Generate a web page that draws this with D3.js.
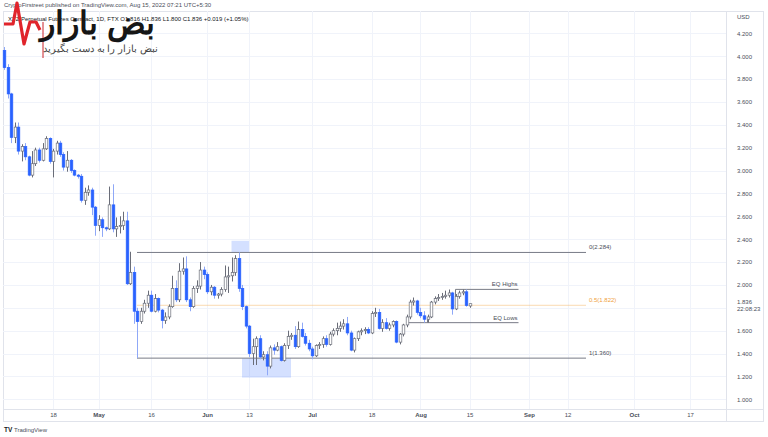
<!DOCTYPE html>
<html><head><meta charset="utf-8">
<script src="https://cdn.jsdelivr.net/npm/d3@7"></script>
<style>body{margin:0;background:#fff}svg{display:block}text{font-family:"Liberation Sans",Arial,sans-serif}</style>
</head><body><svg id="c" width="768" height="437"></svg>
<script>
// ---- data ----
const startDate = "2022-04-04", endDate = "2022-08-15";
const open = [4.05,3.90,3.67,3.29,3.38,3.17,3.21,3.12,2.96,3.06,3.18,3.09,3.19,3.28,3.08,3.17,3.24,3.14,3.03,3.09,3.00,2.96,2.95,2.74,2.81,2.83,2.68,
2.52,2.57,2.50,2.49,2.70,2.49,2.51,2.52,2.56,2.01,2.11,1.77,1.68,1.77,1.84,1.91,1.77,1.88,1.78,1.69,1.72,1.81,1.97,1.87,2.12,2.14,1.87,1.81,1.97,1.99,2.13,
2.09,1.94,1.98,1.91,1.92,1.96,2.07,2.08,2.11,2.23,1.97,1.81,1.64,1.40,1.46,1.53,1.37,1.39,1.29,1.45,1.43,1.46,1.34,1.47,1.55,1.56,1.46,1.61,1.55,1.49,
1.44,1.38,1.47,1.48,1.53,1.48,1.57,1.60,1.62,1.64,1.66,1.58,1.43,1.53,1.59,1.60,1.61,1.58,1.75,1.76,1.62,1.67,1.62,1.65,1.68,1.50,1.57,1.65,1.72,1.85,1.86,
1.76,1.73,1.70,1.72,1.85,1.88,1.89,1.90,1.91,1.93,1.79,1.90,1.93,1.94,1.816];
const high = [4.08,3.93,3.68,3.42,3.42,3.23,3.24,3.13,3.17,3.20,3.20,3.24,3.30,3.29,3.19,3.26,3.26,3.16,3.17,3.10,3.01,2.97,2.97,2.85,2.87,2.85,2.69,
2.61,2.59,2.51,2.86,2.88,2.59,2.60,2.64,2.64,2.29,2.16,1.80,1.80,1.87,1.95,1.95,1.92,1.89,1.79,1.76,1.83,2.08,2.04,2.19,2.24,2.25,1.89,1.99,2.04,2.20,2.16,
2.11,2.00,1.99,1.93,1.98,2.17,2.16,2.24,2.26,2.284,2.00,1.82,1.65,1.53,1.55,1.56,1.42,1.42,1.47,1.48,1.50,1.47,1.49,1.60,1.58,1.64,1.68,1.67,1.58,1.52,
1.46,1.48,1.50,1.55,1.56,1.59,1.62,1.67,1.68,1.70,1.72,1.60,1.54,1.60,1.62,1.63,1.63,1.77,1.80,1.79,1.70,1.71,1.67,1.69,1.69,1.58,1.66,1.74,1.87,1.89,1.87,
1.80,1.77,1.74,1.86,1.90,1.92,1.93,1.95,1.96,1.94,1.92,1.95,1.96,1.96,1.836];
const low = [3.88,3.63,3.24,3.24,3.14,3.08,3.09,2.95,2.94,3.04,3.07,3.08,3.18,3.06,2.94,3.14,3.12,3.00,2.99,2.98,2.95,2.93,2.72,2.70,2.78,2.61,2.43,
2.47,2.42,2.47,2.48,2.46,2.42,2.45,2.48,2.00,2.00,1.66,1.36,1.66,1.75,1.80,1.76,1.76,1.76,1.62,1.66,1.70,1.80,1.85,1.85,2.09,1.85,1.77,1.80,1.93,1.96,2.05,
1.92,1.91,1.88,1.88,1.90,1.94,1.93,2.03,2.08,1.94,1.78,1.62,1.37,1.30,1.30,1.35,1.34,1.21,1.27,1.39,1.42,1.33,1.33,1.44,1.52,1.44,1.45,1.54,1.47,1.42,
1.35,1.37,1.44,1.45,1.46,1.47,1.55,1.56,1.59,1.61,1.56,1.42,1.41,1.51,1.56,1.57,1.57,1.57,1.72,1.61,1.59,1.61,1.60,1.63,1.49,1.48,1.55,1.63,1.70,1.82,1.74,
1.71,1.67,1.67,1.71,1.83,1.86,1.87,1.88,1.89,1.74,1.78,1.88,1.91,1.81,1.80];
const close = [3.90,3.67,3.29,3.38,3.17,3.21,3.12,2.96,3.06,3.18,3.09,3.19,3.28,3.08,3.17,3.24,3.14,3.03,3.09,3.00,2.96,2.95,2.74,2.81,2.83,2.68,2.52,
2.57,2.50,2.49,2.70,2.49,2.51,2.52,2.56,2.01,2.11,1.77,1.68,1.77,1.84,1.91,1.77,1.88,1.78,1.69,1.72,1.81,1.97,1.87,2.12,2.14,1.87,1.81,1.97,1.99,2.13,2.09,
1.94,1.98,1.91,1.92,1.96,2.07,2.08,2.11,2.23,1.97,1.81,1.64,1.40,1.46,1.53,1.37,1.39,1.29,1.45,1.43,1.46,1.34,1.47,1.55,1.56,1.46,1.61,1.55,1.49,1.44,
1.38,1.47,1.48,1.53,1.48,1.57,1.60,1.62,1.64,1.66,1.58,1.43,1.53,1.59,1.60,1.61,1.58,1.75,1.76,1.62,1.67,1.62,1.65,1.68,1.50,1.57,1.65,1.72,1.85,1.86,1.76,
1.73,1.70,1.72,1.85,1.88,1.89,1.90,1.91,1.93,1.79,1.90,1.93,1.94,1.82,1.836];

const priceTicks = [1.0,1.2,1.4,1.6,1.8,2.0,2.2,2.4,2.6,2.8,3.0,3.2,3.4,3.6,3.8,4.0,4.2];
const timeTickDates = ["2022-04-18","2022-05-01","2022-05-16","2022-06-01","2022-06-13","2022-07-01","2022-07-18","2022-08-01","2022-08-15","2022-09-01","2022-09-12","2022-10-01","2022-10-17"];
const timeTickLabels = ["18","May","16","Jun","13","Jul","18","Aug","15","Sep","12","Oct","17"];

const fibLevels = [0, 0.5, 1];
const fibPrices = [2.284, 1.822, 1.360];
const fibStart = "2022-05-12", fibEnd = "2022-10-01";
const eqNames = ["EQ Highs","EQ Lows"];
const eqPrices = [1.961, 1.67];
const eqStarts = ["2022-08-11","2022-07-28"];
const eqEnd = "2022-08-29";
const boxX0 = ["2022-06-08","2022-06-11"], boxX1 = ["2022-06-13","2022-06-25"];
const boxTop = [2.386, 1.36], boxBottom = [2.284, 1.19];

const headerLine1 = "CryptoFirstreet published on TradingView.com, Aug 15, 2022 07:21 UTC+5:30";
const headerLine2 = "XTZ Perpetual Futures Contract, 1D, FTX   O1.816 H1.836 L1.800 C1.836 +0.019 (+1.05%)";
const lastTime = "22:08:23";

// ---- drawing ----
const parse = d3.timeParse("%Y-%m-%d");
const dates = d3.timeDay.range(parse(startDate), d3.timeDay.offset(parse(endDate),1));
const candles = dates.map((d,i)=>({d, o:open[i], h:high[i], l:low[i], c:close[i]}));

const svg = d3.select("#c");
const paneL=3, paneR=726, paneT=11, paneB=409, axisR=763, axisB=421;
const x = d3.scaleTime().domain([parse("2022-04-18"), parse("2022-10-17")]).range([53,690]);
const y = d3.scaleLinear().domain([1.0,4.2]).range([399.3,33.3]);
const lastClose = close[close.length-1];

// frame
svg.append("rect").attr("x",paneL+0.5).attr("y",paneT+0.5).attr("width",axisR-paneL).attr("height",axisB-paneT)
  .attr("fill","none").attr("stroke","#e0e3eb");
svg.append("line").attr("x1",paneR+0.5).attr("x2",paneR+0.5).attr("y1",paneT).attr("y2",axisB).attr("stroke","#e0e3eb");
svg.append("line").attr("x1",paneL).attr("x2",axisR).attr("y1",paneB+0.5).attr("y2",paneB+0.5).attr("stroke","#e0e3eb");

// grid
const tdates = timeTickDates.map(parse);
svg.append("g").selectAll("line").data(priceTicks).join("line")
  .attr("x1",paneL).attr("x2",paneR).attr("y1",d=>Math.round(y(d))+0.5).attr("y2",d=>Math.round(y(d))+0.5)
  .attr("stroke","#f0f3fa");
svg.append("g").selectAll("line").data(tdates).join("line")
  .attr("x1",d=>Math.round(x(d))+0.5).attr("x2",d=>Math.round(x(d))+0.5).attr("y1",paneT).attr("y2",paneB)
  .attr("stroke","#f0f3fa");

// right price axis (labels hidden where the last-price label sits)
const shownTicks = priceTicks.filter(p=>Math.abs(y(p)-y(lastClose))>10);
const yAxis = d3.axisRight(y).tickValues(shownTicks).tickFormat(d3.format(".3f")).tickSize(0).tickPadding(0);
const gy = svg.append("g").attr("transform",`translate(737,0)`).call(yAxis);
gy.select(".domain").remove();
gy.selectAll("text").attr("font-size",6).attr("fill","#4a4e59").attr("font-family","Liberation Sans, Arial, sans-serif");
svg.append("text").attr("x",737).attr("y",19).attr("font-size",6).attr("fill","#4a4e59").text("USD");
svg.append("text").attr("x",737).attr("y",y(lastClose)).attr("font-size",6).attr("fill","#4a4e59").text(d3.format(".3f")(lastClose));
svg.append("text").attr("x",737).attr("y",y(lastClose)+7).attr("font-size",6).attr("fill","#4a4e59").text(lastTime);

// time axis
const xAxis = d3.axisBottom(x).tickValues(tdates).tickFormat((d,i)=>timeTickLabels[i]).tickSize(0).tickPadding(0);
const gx = svg.append("g").attr("transform",`translate(0,${paneB+4})`).call(xAxis);
gx.select(".domain").remove();
gx.selectAll("text").attr("font-size",6).attr("fill","#4a4e59").attr("font-family","Liberation Sans, Arial, sans-serif")
  .attr("font-weight",(d,i)=>isNaN(+timeTickLabels[i])?"bold":"normal");

// highlight boxes
svg.append("g").selectAll("rect").data(boxX0).join("rect")
  .attr("x",(d,i)=>x(parse(d))).attr("width",(d,i)=>x(parse(boxX1[i]))-x(parse(d)))
  .attr("y",(d,i)=>y(boxTop[i])).attr("height",(d,i)=>y(boxBottom[i])-y(boxTop[i]))
  .attr("fill","#2962ff").attr("fill-opacity",0.2);

// fib lines
const fibColors = ["#787b86","#f5b971","#787b86"];
const gf = svg.append("g");
fibPrices.forEach((p,i)=>{
  gf.append("line").attr("x1",x(parse(fibStart))).attr("x2",x(parse(fibEnd))-48)
    .attr("y1",y(p)).attr("y2",y(p)).attr("stroke",fibColors[i]).attr("stroke-width",1)
    .attr("stroke-opacity",i===1?0.55:1);
  gf.append("text").attr("x",x(parse(fibEnd))-45).attr("y",y(p)-3).attr("font-size",6)
    .attr("fill",i===1?"#f0a040":"#4a4e59").text(`${fibLevels[i]}(${d3.format(".3f")(p)})`);
});

// EQ lines
eqPrices.forEach((p,i)=>{
  svg.append("line").attr("x1",x(parse(eqStarts[i]))).attr("x2",x(parse(eqEnd)))
    .attr("y1",y(p)).attr("y2",y(p)).attr("stroke","#787b86").attr("stroke-width",1);
  svg.append("text").attr("x",x(parse(eqEnd))-1).attr("y",y(p)-3).attr("font-size",6)
    .attr("text-anchor","end").attr("fill","#4a4e59").text(eqNames[i]);
});
svg.append("line").attr("x1",x(parse(eqStarts[0]))).attr("x2",x(parse(eqStarts[0])))
  .attr("y1",y(eqPrices[0])).attr("y2",y(1.90)).attr("stroke","#787b86");
svg.append("line").attr("x1",x(parse("2022-08-03"))).attr("x2",x(parse("2022-08-03")))
  .attr("y1",y(eqPrices[1])).attr("y2",y(1.70)).attr("stroke","#787b86");

// candles
const bw = 2.6;
const gc = svg.append("g");
gc.selectAll("line").data(candles).join("line")
  .attr("x1",d=>Math.round(x(d.d))+0.5).attr("x2",d=>Math.round(x(d.d))+0.5)
  .attr("y1",d=>y(d.h)).attr("y2",d=>y(d.l))
  .attr("stroke",d=>d.c>=d.o?"#6a6d78":"#8fa8f7").attr("stroke-width",1);
gc.selectAll("rect").data(candles).join("rect")
  .attr("x",d=>Math.round(x(d.d))+0.5-bw/2).attr("width",bw)
  .attr("y",d=>y(Math.max(d.o,d.c))).attr("height",d=>Math.max(0.8,Math.abs(y(d.o)-y(d.c))))
  .attr("fill",d=>d.c>=d.o?"#ffffff":"#2962ff")
  .attr("stroke",d=>d.c>=d.o?"#6a6d78":"#2962ff").attr("stroke-width",0.7);

// header
svg.append("text").attr("x",4).attr("y",7).attr("font-size",6).attr("fill","#4a4e59").text(headerLine1);
svg.append("text").attr("x",8).attr("y",21).attr("font-size",6).attr("fill","#131722").text(headerLine2);

// watermark logo
const lg = svg.append("g");
lg.append("path").attr("d","M4,24 L13,24 L17,3 L24,44 L30,22 L36,22 L40,30")
  .attr("fill","none").attr("stroke","#e0242b").attr("stroke-width",3.2).attr("stroke-linejoin","round");
lg.append("line").attr("x1",43).attr("x2",43).attr("y1",22).attr("y2",58).attr("stroke","#c8232b").attr("stroke-width",1);
lg.append("text").attr("x",155).attr("y",34).attr("text-anchor","end").attr("font-size",32).attr("font-weight","bold")
  .attr("font-family","DejaVu Sans, sans-serif").attr("fill","#161616").text("بض بازار");
lg.append("text").attr("x",158).attr("y",52).attr("text-anchor","end").attr("font-size",10)
  .attr("font-family","DejaVu Sans, sans-serif").attr("fill","#444").text("نبض بازار را به دست بگیرید");

// footer logo
svg.append("text").attr("x",4).attr("y",432).attr("font-size",6.5).attr("font-weight","bold").attr("fill","#131722").text("TV");
svg.append("text").attr("x",14).attr("y",432).attr("font-size",6).attr("fill","#4a4e59").text("TradingView");
</script></body></html>
